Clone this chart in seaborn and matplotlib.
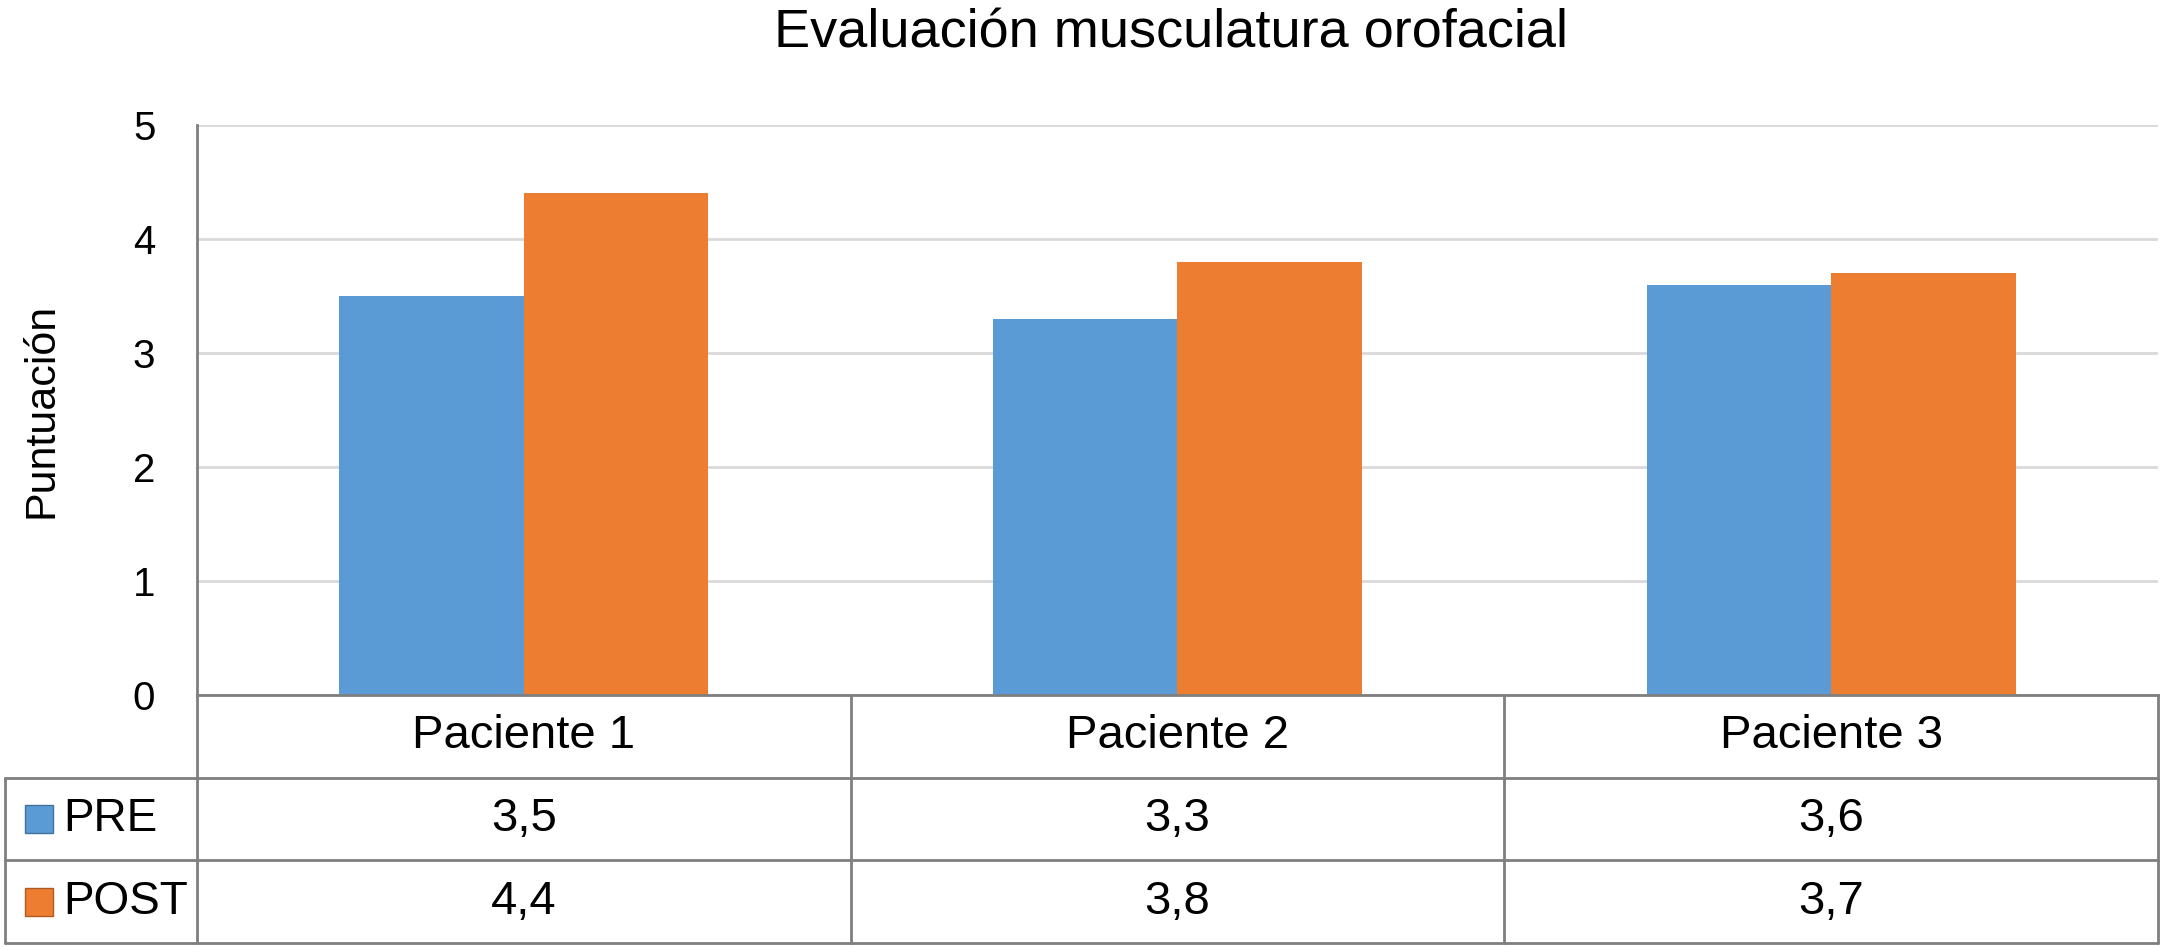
import numpy as np
import pandas as pd
import seaborn as sns
import matplotlib.pyplot as plt

# chart data
patients = ["Paciente 1", "Paciente 2", "Paciente 3"]
groups = ["PRE", "POST"]
pre_scores = [3.5, 3.3, 3.6]
post_scores = [4.4, 3.8, 3.7]
y_ticks = [0, 1, 2, 3, 4, 5]

COLORS = {"PRE": "#5B9BD5", "POST": "#ED7D31"}
EDGE = {"PRE": "#41719C", "POST": "#AE5A21"}
LINE = "#7F7F7F"
GRID = "#D9D9D9"
W, H = 2161, 947

sns.set_theme(style="white")
plt.rcParams["font.family"] = ["Liberation Sans", "DejaVu Sans"]
plt.rcParams["text.color"] = "black"

df = pd.DataFrame({
    "Paciente": patients * 2,
    "Grupo": ["PRE"] * 3 + ["POST"] * 3,
    "Puntuacion": pre_scores + post_scores,
})

fig = plt.figure(figsize=(W / 100, H / 100), dpi=100)

ax_left, ax_right, ax_top, ax_bottom = 197, 2158, 125, 695
ax = fig.add_axes([ax_left / W, 1 - ax_bottom / H,
                   (ax_right - ax_left) / W, (ax_bottom - ax_top) / H])

sns.barplot(data=df, x="Paciente", y="Puntuacion", hue="Grupo",
            hue_order=groups, order=patients, palette=COLORS,
            saturation=1, width=0.565, gap=0, ax=ax, legend=False,
            linewidth=0)

ax.set_xlim(-0.5, 2.5)
ax.set_ylim(0, 5)
ax.set_yticks(y_ticks)
ax.tick_params(axis="y", labelsize=29, length=0, pad=30, colors="black")
ax.set_xticks([])
ax.set_xlabel("")
ax.set_ylabel("Puntuación", fontsize=31, color="black")
ax.yaxis.set_label_coords(-(ax_left - 62) / (ax_right - ax_left), 0.5)
ax.grid(axis="y", color=GRID, linewidth=2)
ax.set_axisbelow(True)
for side in ["top", "right"]:
    ax.spines[side].set_visible(False)
for side in ["left", "bottom"]:
    ax.spines[side].set_color(LINE)
    ax.spines[side].set_linewidth(2)

fig.text(1171 / W, 1 - 47 / H, "Evaluación musculatura orofacial",
         ha="center", va="baseline", fontsize=39)

# data table under the axis
tb_left, tb_top, tb_bottom = 5, 695, 943
tab = fig.add_axes([tb_left / W, 1 - tb_bottom / H,
                    (ax_right - tb_left) / W, (tb_bottom - tb_top) / H])
units_per_px = 3 / (ax_right - ax_left)
x0 = -0.5 - (ax_left - tb_left) * units_per_px
tab.set_xlim(x0, 2.5)
tab.set_ylim(0, 3)
tab.axis("off")

lw = 2
for yy in [0, 1, 2]:
    tab.plot([x0, 2.5], [yy, yy], color=LINE, lw=lw, clip_on=False)
tab.plot([x0, x0], [0, 2], color=LINE, lw=lw, clip_on=False)
for xx in [-0.5, 0.5, 1.5, 2.5]:
    tab.plot([xx, xx], [0, 3], color=LINE, lw=lw, clip_on=False)

for i, name in enumerate(patients):
    tab.text(i, 2.5, name, ha="center", va="center", fontsize=34)

rows = {"PRE": pre_scores, "POST": post_scores}
for r, grp in enumerate(groups):
    yc = 1.5 - r
    tab.plot([x0 + 34 * units_per_px], [yc], marker="s", markersize=20,
             color=COLORS[grp], markeredgecolor=EDGE[grp], markeredgewidth=1,
             clip_on=False)
    tab.text(x0 + 58 * units_per_px, yc, grp, ha="left", va="center",
             fontsize=33)
    for i, v in enumerate(rows[grp]):
        tab.text(i, yc, f"{v:.1f}".replace(".", ","), ha="center",
                 va="center", fontsize=34)

fig.savefig("out.png", dpi=100)
